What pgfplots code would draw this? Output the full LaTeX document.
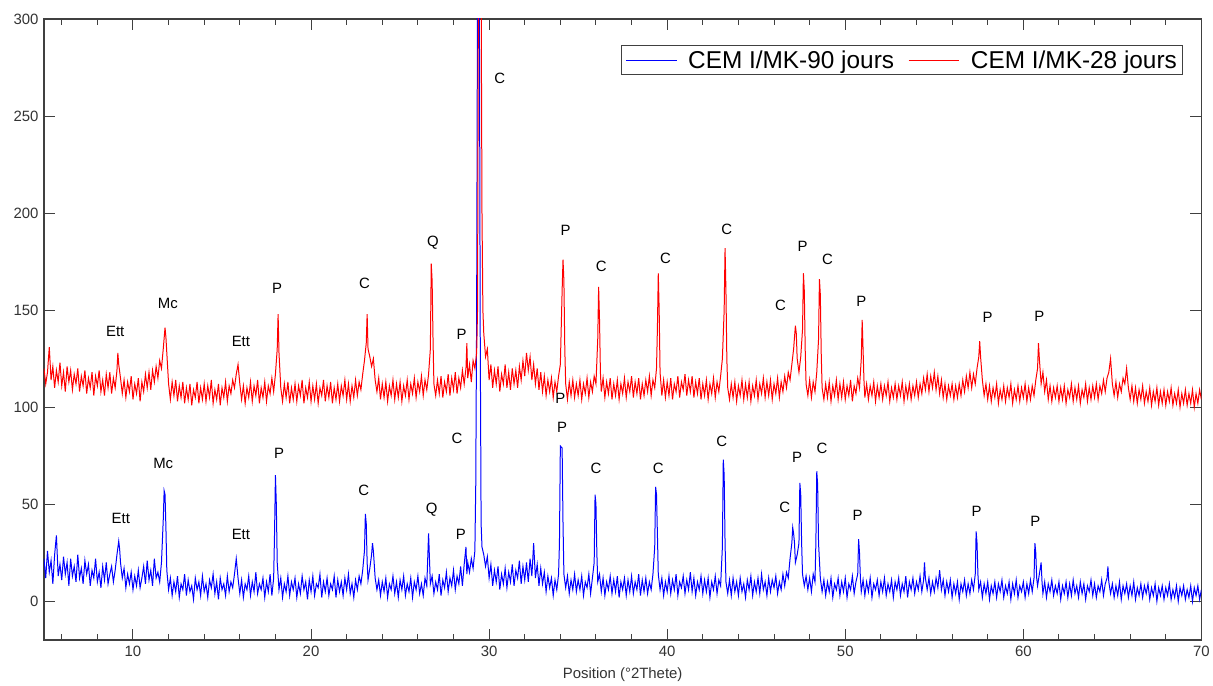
\documentclass[border=0pt]{standalone}
\usepackage{fontspec}
\setmainfont{Liberation Sans}
\usepackage{pgfplots}
\pgfplotsset{compat=1.18}
\begin{document}
\begin{tikzpicture}
\begin{axis}[
  width=1159bp, height=622bp, scale only axis,
  xmin=5, xmax=70, ymin=-20, ymax=300,
  xtick={10,20,...,70}, minor xtick={6,8,...,68},
  ytick={0,50,...,300},
  tick align=inside,
  major tick length=11bp, minor tick length=6bp,
  axis line style={draw=black!75, line width=1.5bp},
  every tick/.style={black!75, line width=1bp},
  /pgf/number format/assume math mode=true,
  ticklabel style={font=\fontsize{15}{18}\selectfont, text=black!80},
  yticklabel style={xshift=-2bp},
  xticklabel style={yshift=-2bp},
  xlabel={Position (°2Thete)},
  xlabel style={font=\fontsize{15}{18}\selectfont, text=black!80, yshift=-5bp},
  legend columns=2,
  legend cell align=left,
  legend image code/.code={\draw[#1] (0bp,0bp) -- (51bp,0bp); \path (60bp,0bp);},
  legend style={at={(rel axis cs:0.9845,0.958)}, anchor=north east,
    draw=black!75, line width=1.2bp, inner xsep=4bp, inner ysep=3bp,
    font=\fontsize{24.5}{29}\selectfont,
    /tikz/every even column/.append style={column sep=12bp}},
]
\addplot[blue, line width=1bp] coordinates {
(5.0,22)(5.1,12)(5.2,26)(5.3,15)(5.4,21)(5.5,9)(5.6,24)(5.7,34)(5.8,13)(5.9,19)
(6.0,11)(6.1,23)(6.2,14)(6.3,20)(6.4,8)(6.5,22)(6.6,13)(6.7,18)(6.8,10)(6.9,24)
(7.0,12)(7.1,17)(7.2,9)(7.3,21)(7.4,14)(7.5,19)(7.6,8)(7.7,16)(7.8,12)(7.9,22)
(8.0,10)(8.1,15)(8.2,7)(8.3,18)(8.4,11)(8.5,20)(8.6,9)(8.7,14)(8.8,18)(8.9,10)
(9.0,16)(9.1,24)(9.2,31)(9.25,27)(9.3,20)(9.4,12)(9.5,17)(9.6,7)(9.7,14)(9.8,9)(9.9,15)
(10.0,6)(10.1,13)(10.2,8)(10.3,16)(10.4,7)(10.5,12)(10.6,18)(10.7,9)(10.8,21)(10.9,11)
(11.0,16)(11.1,8)(11.2,22)(11.3,12)(11.4,15)(11.5,10)(11.6,20)(11.7,42)(11.75,57)(11.8,55)(11.85,38)(11.9,16)
(12.0,6)(12.1,12)(12.2,3)(12.3,10)(12.4,5)(12.5,13)(12.6,2)(12.7,9)(12.8,6)(12.9,14)
(13.0,3)(13.1,11)(13.2,5)(13.3,8)(13.4,1)(13.5,12)(13.6,6)(13.7,10)(13.8,3)(13.9,13)
(14.0,5)(14.1,9)(14.2,2)(14.3,11)(14.4,7)(14.5,14)(14.6,4)(14.7,10)(14.8,1)(14.9,12)
(15.0,6)(15.1,9)(15.2,3)(15.3,13)(15.4,5)(15.5,10)(15.6,7)(15.7,14)(15.8,22)(15.9,12)
(16.0,4)(16.1,11)(16.2,2)(16.3,9)(16.4,6)(16.5,13)(16.6,3)(16.7,10)(16.8,5)(16.9,15)
(17.0,4)(17.1,9)(17.2,6)(17.3,12)(17.4,2)(17.5,10)(17.6,5)(17.7,14)(17.8,3)(17.9,12)
(17.95,35)(18.0,65)(18.05,50)(18.1,20)(18.2,6)(18.3,12)(18.4,2)(18.5,9)(18.6,5)(18.7,13)(18.8,3)(18.9,10)
(19.0,6)(19.1,12)(19.2,2)(19.3,9)(19.4,4)(19.5,13)(19.6,6)(19.7,10)(19.8,1)(19.9,11)
(20.0,5)(20.1,13)(20.2,3)(20.3,9)(20.4,7)(20.5,14)(20.6,2)(20.7,10)(20.8,5)(20.9,12)
(21.0,3)(21.1,9)(21.2,6)(21.3,13)(21.4,2)(21.5,11)(21.6,5)(21.7,10)(21.8,3)(21.9,12)
(22.0,6)(22.1,14)(22.2,4)(22.3,9)(22.4,2)(22.5,11)(22.6,6)(22.7,13)(22.8,9)(22.9,16)
(23.0,26)(23.05,45)(23.1,40)(23.15,20)(23.2,11)(23.3,17)(23.4,24)(23.45,30)(23.5,26)(23.6,12)(23.7,6)(23.8,11)(23.9,3)
(24.0,10)(24.1,5)(24.2,12)(24.3,2)(24.4,9)(24.5,6)(24.6,13)(24.7,4)(24.8,10)(24.9,2)
(25.0,11)(25.1,6)(25.2,13)(25.3,3)(25.4,9)(25.5,5)(25.6,12)(25.7,2)(25.8,10)(25.9,6)
(26.0,13)(26.1,4)(26.2,9)(26.3,3)(26.4,12)(26.5,8)(26.6,35)(26.65,22)(26.7,9)(26.8,13)(26.9,4)
(27.0,10)(27.1,6)(27.2,14)(27.3,3)(27.4,11)(27.5,7)(27.6,15)(27.7,5)(27.8,12)(27.9,8)
(28.0,16)(28.1,6)(28.2,13)(28.3,9)(28.4,18)(28.5,8)(28.6,19)(28.7,28)(28.75,14)(28.8,20)(28.9,15)
(29.0,22)(29.1,17)(29.2,26)(29.25,60)(29.3,150)(29.35,320)(29.45,320)(29.5,140)(29.55,40)(29.6,28)(29.7,24)(29.8,18)(29.9,23)
(30.0,12)(30.1,19)(30.2,8)(30.3,16)(30.4,10)(30.5,18)(30.6,6)(30.7,14)(30.8,9)(30.9,17)
(31.0,7)(31.1,15)(31.2,10)(31.3,19)(31.4,8)(31.5,16)(31.6,12)(31.7,21)(31.8,9)(31.9,18)
(32.0,11)(32.1,20)(32.2,10)(32.3,22)(32.4,13)(32.5,30)(32.6,12)(32.7,19)(32.8,8)(32.9,17)
(33.0,9)(33.1,15)(33.2,5)(33.3,13)(33.4,7)(33.5,12)(33.6,3)(33.7,11)(33.8,6)(33.9,14)
(33.95,30)(34.0,80)(34.1,79)(34.15,40)(34.2,14)(34.3,7)(34.4,13)(34.5,4)(34.6,11)(34.7,6)(34.8,14)(34.9,5)
(35.0,11)(35.1,6)(35.2,13)(35.3,3)(35.4,10)(35.5,7)(35.6,14)(35.7,4)(35.8,12)(35.9,20)
(35.95,55)(36.0,50)(36.05,25)(36.1,10)(36.2,14)(36.3,5)(36.4,12)(36.5,3)(36.6,10)(36.7,6)(36.8,13)(36.9,4)
(37.0,11)(37.1,5)(37.2,13)(37.3,2)(37.4,10)(37.5,6)(37.6,12)(37.7,3)(37.8,11)(37.9,5)
(38.0,13)(38.1,4)(38.2,10)(38.3,6)(38.4,14)(38.5,3)(38.6,11)(38.7,5)(38.8,12)(38.9,4)
(39.0,10)(39.1,6)(39.2,14)(39.3,28)(39.35,59)(39.4,55)(39.45,35)(39.5,14)(39.6,6)(39.7,12)(39.8,3)(39.9,10)
(40.0,5)(40.1,13)(40.2,4)(40.3,11)(40.4,6)(40.5,14)(40.6,3)(40.7,10)(40.8,7)(40.9,13)
(41.0,4)(41.1,11)(41.2,6)(41.3,15)(41.4,5)(41.5,12)(41.6,3)(41.7,10)(41.8,6)(41.9,13)
(42.0,4)(42.1,11)(42.2,5)(42.3,12)(42.4,2)(42.5,10)(42.6,6)(42.7,13)(42.8,4)(42.9,11)
(43.0,8)(43.1,28)(43.15,73)(43.2,65)(43.25,30)(43.3,10)(43.4,4)(43.5,11)(43.6,3)(43.7,12)(43.8,5)(43.9,10)
(44.0,3)(44.1,12)(44.2,5)(44.3,9)(44.4,2)(44.5,11)(44.6,6)(44.7,13)(44.8,3)(44.9,10)
(45.0,5)(45.1,12)(45.2,4)(45.3,14)(45.4,6)(45.5,10)(45.6,3)(45.7,12)(45.8,5)(45.9,11)
(46.0,7)(46.1,13)(46.2,4)(46.3,10)(46.4,6)(46.5,14)(46.6,8)(46.7,15)(46.8,12)(46.9,22)
(47.0,30)(47.05,38)(47.1,35)(47.15,30)(47.2,20)(47.3,24)(47.4,30)(47.45,61)(47.5,55)(47.55,30)(47.6,14)(47.7,8)(47.8,13)(47.9,6)
(48.0,12)(48.1,5)(48.2,14)(48.3,10)(48.35,30)(48.4,67)(48.45,60)(48.5,30)(48.6,12)(48.7,5)(48.8,11)(48.9,3)
(49.0,10)(49.1,5)(49.2,12)(49.3,2)(49.4,9)(49.5,6)(49.6,12)(49.7,3)(49.8,10)(49.9,5)
(50.0,12)(50.1,2)(50.2,9)(50.3,6)(50.4,13)(50.5,4)(50.6,10)(50.7,14)(50.75,32)(50.8,25)(50.85,12)(50.9,5)
(51.0,11)(51.1,3)(51.2,10)(51.3,5)(51.4,12)(51.5,2)(51.6,9)(51.7,6)(51.8,11)(51.9,3)
(52.0,10)(52.1,5)(52.2,12)(52.3,3)(52.4,9)(52.5,5)(52.6,11)(52.7,2)(52.8,10)(52.9,6)
(53.0,12)(53.1,3)(53.2,9)(53.3,5)(53.4,13)(53.5,2)(53.6,10)(53.7,6)(53.8,12)(53.9,4)
(54.0,10)(54.1,6)(54.2,13)(54.3,5)(54.4,11)(54.45,20)(54.5,12)(54.6,6)(54.7,12)(54.8,4)(54.9,10)
(55.0,5)(55.1,12)(55.2,7)(55.3,16)(55.4,6)(55.5,11)(55.6,3)(55.7,10)(55.8,5)(55.9,11)
(56.0,2)(56.1,9)(56.2,4)(56.3,10)(56.4,1)(56.5,9)(56.6,5)(56.7,11)(56.8,3)(56.9,9)
(57.0,4)(57.1,11)(57.2,6)(57.3,14)(57.35,36)(57.4,30)(57.45,14)(57.5,6)(57.6,10)(57.7,2)(57.8,9)(57.9,4)
(58.0,10)(58.1,1)(58.2,8)(58.3,4)(58.4,10)(58.5,2)(58.6,9)(58.7,5)(58.8,11)(58.9,2)
(59.0,8)(59.1,4)(59.2,10)(59.3,1)(59.4,9)(59.5,4)(59.6,11)(59.7,2)(59.8,8)(59.9,5)
(60.0,10)(60.1,2)(60.2,9)(60.3,4)(60.4,11)(60.5,5)(60.6,12)(60.65,30)(60.7,25)(60.75,12)(60.8,8)(60.9,14)
(61.0,20)(61.05,10)(61.1,4)(61.2,10)(61.3,2)(61.4,9)(61.5,5)(61.6,11)(61.7,3)(61.8,8)(61.9,4)
(62.0,10)(62.1,1)(62.2,8)(62.3,4)(62.4,10)(62.5,2)(62.6,9)(62.7,3)(62.8,11)(62.9,4)
(63.0,8)(63.1,2)(63.2,10)(63.3,4)(63.4,9)(63.5,1)(63.6,8)(63.7,5)(63.8,11)(63.9,3)
(64.0,9)(64.1,2)(64.2,8)(64.3,5)(64.4,11)(64.5,3)(64.6,9)(64.7,12)(64.75,18)(64.8,10)(64.9,4)
(65.0,9)(65.1,2)(65.2,8)(65.3,3)(65.4,10)(65.5,1)(65.6,8)(65.7,4)(65.8,9)(65.9,2)
(66.0,8)(66.1,3)(66.2,10)(66.3,1)(66.4,7)(66.5,3)(66.6,9)(66.7,2)(66.8,8)(66.9,4)
(67.0,9)(67.1,1)(67.2,7)(67.3,3)(67.4,9)(67.5,0)(67.6,7)(67.7,3)(67.8,8)(67.9,1)
(68.0,7)(68.1,3)(68.2,9)(68.3,1)(68.4,6)(68.5,2)(68.6,8)(68.7,0)(68.8,7)(68.9,3)
(69.0,8)(69.1,1)(69.2,6)(69.3,2)(69.4,8)(69.5,0)(69.6,7)(69.7,3)(69.8,8)(69.9,1)(70.0,6)
};
\addlegendentry{CEM I/MK-90 jours}
\addplot[red, line width=1bp] coordinates {
(5.0,120)(5.1,112)(5.2,118)(5.3,131)(5.4,114)(5.5,121)(5.6,110)(5.7,119)(5.8,113)(5.9,123)
(6.0,111)(6.1,118)(6.2,108)(6.3,121)(6.4,113)(6.5,119)(6.6,109)(6.7,117)(6.8,112)(6.9,120)
(7.0,108)(7.1,116)(7.2,111)(7.3,119)(7.4,107)(7.5,115)(7.6,110)(7.7,118)(7.8,106)(7.9,116)
(8.0,111)(8.1,119)(8.2,108)(8.3,114)(8.4,106)(8.5,117)(8.6,110)(8.7,118)(8.8,107)(8.9,115)
(9.0,110)(9.1,119)(9.15,128)(9.2,122)(9.3,115)(9.4,107)(9.5,114)(9.6,105)(9.7,113)(9.8,108)(9.9,116)
(10.0,104)(10.1,112)(10.2,107)(10.3,115)(10.4,103)(10.5,113)(10.6,108)(10.7,117)(10.8,110)(10.9,118)
(11.0,109)(11.1,119)(11.2,113)(11.3,121)(11.4,115)(11.5,124)(11.6,120)(11.7,130)(11.8,141)(11.85,136)(11.9,128)
(12.0,112)(12.1,104)(12.2,113)(12.3,106)(12.4,114)(12.5,103)(12.6,111)(12.7,105)(12.8,113)(12.9,102)
(13.0,110)(13.1,104)(13.2,112)(13.3,101)(13.4,109)(13.5,105)(13.6,113)(13.7,102)(13.8,110)(13.9,104)
(14.0,112)(14.1,103)(14.2,111)(14.3,105)(14.4,114)(14.5,102)(14.6,109)(14.7,104)(14.8,112)(14.9,101)
(15.0,110)(15.1,105)(15.2,113)(15.3,103)(15.4,111)(15.5,107)(15.6,114)(15.7,110)(15.8,117)(15.9,122)
(16.0,112)(16.1,104)(16.2,111)(16.3,102)(16.4,110)(16.5,105)(16.6,113)(16.7,103)(16.8,111)(16.9,106)
(17.0,114)(17.1,102)(17.2,110)(17.3,105)(17.4,113)(17.5,103)(17.6,111)(17.7,107)(17.8,115)(17.9,108)
(18.0,117)(18.1,130)(18.15,148)(18.2,128)(18.3,110)(18.4,103)(18.5,112)(18.6,105)(18.7,113)(18.8,102)(18.9,110)
(19.0,104)(19.1,112)(19.2,103)(19.3,111)(19.4,106)(19.5,114)(19.6,102)(19.7,110)(19.8,105)(19.9,113)
(20.0,103)(20.1,111)(20.2,104)(20.3,112)(20.4,102)(20.5,110)(20.6,106)(20.7,114)(20.8,103)(20.9,111)
(21.0,105)(21.1,113)(21.2,102)(21.3,110)(21.4,104)(21.5,112)(21.6,103)(21.7,111)(21.8,106)(21.9,114)
(22.0,104)(22.1,112)(22.2,103)(22.3,111)(22.4,105)(22.5,114)(22.6,106)(22.7,113)(22.8,109)(22.9,117)
(23.0,124)(23.1,133)(23.15,148)(23.2,130)(23.3,126)(23.4,121)(23.5,125)(23.6,114)(23.7,108)(23.8,115)(23.9,104)
(24.0,112)(24.1,105)(24.2,113)(24.3,103)(24.4,111)(24.5,106)(24.6,114)(24.7,104)(24.8,112)(24.9,105)
(25.0,113)(25.1,103)(25.2,111)(25.3,106)(25.4,114)(25.5,104)(25.6,112)(25.7,107)(25.8,115)(25.9,105)
(26.0,113)(26.1,108)(26.2,116)(26.3,106)(26.4,114)(26.5,109)(26.6,117)(26.7,130)(26.75,174)(26.8,165)(26.85,135)(26.9,112)
(27.0,106)(27.1,114)(27.2,107)(27.3,116)(27.4,105)(27.5,113)(27.6,108)(27.7,117)(27.8,106)(27.9,115)
(28.0,109)(28.1,118)(28.2,107)(28.3,115)(28.4,110)(28.5,119)(28.6,112)(28.7,120)(28.75,133)(28.8,115)(28.9,122)
(29.0,113)(29.1,124)(29.2,120)(29.3,128)(29.35,150)(29.4,320)(29.55,320)(29.6,200)(29.65,150)(29.7,138)(29.8,126)(29.9,130)
(30.0,114)(30.1,122)(30.2,110)(30.3,119)(30.4,112)(30.5,121)(30.6,108)(30.7,117)(30.8,112)(30.9,122)
(31.0,110)(31.1,118)(31.2,109)(31.3,120)(31.4,112)(31.5,119)(31.6,110)(31.7,121)(31.8,114)(31.9,124)
(32.0,116)(32.1,128)(32.2,119)(32.3,126)(32.4,114)(32.5,122)(32.6,112)(32.7,120)(32.8,109)(32.9,118)
(33.0,108)(33.1,116)(33.2,106)(33.3,114)(33.4,108)(33.5,115)(33.6,105)(33.7,113)(33.8,108)(33.9,116)
(34.0,122)(34.1,160)(34.15,176)(34.2,165)(34.25,130)(34.3,112)(34.4,104)(34.5,113)(34.6,106)(34.7,114)(34.8,105)(34.9,112)
(35.0,106)(35.1,114)(35.2,104)(35.3,112)(35.4,107)(35.5,115)(35.6,105)(35.7,113)(35.8,108)(35.9,116)
(36.0,112)(36.1,135)(36.15,162)(36.2,145)(36.25,118)(36.3,108)(36.4,115)(36.5,105)(36.6,113)(36.7,107)(36.8,115)(36.9,104)
(37.0,112)(37.1,106)(37.2,114)(37.3,104)(37.4,112)(37.5,107)(37.6,115)(37.7,105)(37.8,113)(37.9,108)
(38.0,116)(38.1,105)(38.2,113)(38.3,107)(38.4,115)(38.5,104)(38.6,112)(38.7,106)(38.8,114)(38.9,108)
(39.0,116)(39.1,106)(39.2,114)(39.3,110)(39.4,120)(39.45,140)(39.5,169)(39.55,150)(39.6,118)(39.7,106)(39.8,114)(39.9,105)
(40.0,113)(40.1,106)(40.2,115)(40.3,104)(40.4,112)(40.5,108)(40.6,116)(40.7,105)(40.8,113)(40.9,109)
(41.0,117)(41.1,106)(41.2,114)(41.3,108)(41.4,116)(41.5,105)(41.6,113)(41.7,107)(41.8,115)(41.9,104)
(42.0,112)(42.1,106)(42.2,114)(42.3,104)(42.4,112)(42.5,107)(42.6,115)(42.7,105)(42.8,113)(42.9,108)
(43.0,116)(43.1,125)(43.2,150)(43.25,182)(43.3,160)(43.35,125)(43.4,110)(43.5,104)(43.6,112)(43.7,105)(43.8,113)(43.9,103)
(44.0,111)(44.1,106)(44.2,114)(44.3,104)(44.4,112)(44.5,105)(44.6,113)(44.7,103)(44.8,111)(44.9,106)
(45.0,114)(45.1,104)(45.2,112)(45.3,107)(45.4,115)(45.5,105)(45.6,113)(45.7,106)(45.8,114)(45.9,104)
(46.0,112)(46.1,107)(46.2,115)(46.3,105)(46.4,113)(46.5,108)(46.6,116)(46.7,110)(46.8,118)(46.9,114)
(47.0,122)(47.1,130)(47.2,142)(47.25,138)(47.3,125)(47.4,118)(47.5,126)(47.6,140)(47.65,169)(47.7,160)(47.75,130)(47.8,112)(47.9,106)
(48.0,114)(48.1,105)(48.2,113)(48.3,108)(48.4,118)(48.5,135)(48.55,166)(48.6,158)(48.65,128)(48.7,110)(48.8,104)(48.9,112)
(49.0,105)(49.1,113)(49.2,103)(49.3,111)(49.4,106)(49.5,114)(49.6,104)(49.7,112)(49.8,105)(49.9,113)
(50.0,104)(50.1,111)(50.2,106)(50.3,114)(50.4,103)(50.5,111)(50.6,107)(50.7,115)(50.8,110)(50.9,125)
(50.95,145)(51.0,130)(51.05,114)(51.1,105)(51.2,112)(51.3,104)(51.4,111)(51.5,106)(51.6,113)(51.7,103)(51.8,111)(51.9,105)
(52.0,112)(52.1,104)(52.2,111)(52.3,106)(52.4,113)(52.5,103)(52.6,110)(52.7,105)(52.8,112)(52.9,104)
(53.0,111)(53.1,106)(53.2,113)(53.3,103)(53.4,111)(53.5,105)(53.6,112)(53.7,104)(53.8,111)(53.9,106)
(54.0,113)(54.1,105)(54.2,112)(54.3,107)(54.4,115)(54.5,109)(54.6,117)(54.7,108)(54.8,116)(54.9,110)
(55.0,118)(55.1,109)(55.2,116)(55.3,107)(55.4,114)(55.5,105)(55.6,112)(55.7,104)(55.8,111)(55.9,106)
(56.0,112)(56.1,104)(56.2,111)(56.3,105)(56.4,112)(56.5,106)(56.6,114)(56.7,108)(56.8,116)(56.9,110)
(57.0,118)(57.1,110)(57.2,117)(57.3,112)(57.4,120)(57.5,126)(57.55,134)(57.6,126)(57.7,114)(57.8,106)(57.9,112)
(58.0,104)(58.1,111)(58.2,103)(58.3,110)(58.4,105)(58.5,112)(58.6,102)(58.7,109)(58.8,104)(58.9,111)
(59.0,103)(59.1,110)(59.2,105)(59.3,112)(59.4,102)(59.5,109)(59.6,104)(59.7,111)(59.8,103)(59.9,110)
(60.0,105)(60.1,112)(60.2,103)(60.3,110)(60.4,104)(60.5,111)(60.6,106)(60.7,114)(60.8,120)(60.85,133)(60.9,125)(61.0,112)
(61.1,118)(61.2,108)(61.3,114)(61.4,104)(61.5,111)(61.6,103)(61.7,110)(61.8,105)(61.9,111)
(62.0,103)(62.1,110)(62.2,104)(62.3,111)(62.4,102)(62.5,109)(62.6,105)(62.7,112)(62.8,103)(62.9,110)
(63.0,104)(63.1,111)(63.2,102)(63.3,109)(63.4,105)(63.5,112)(63.6,103)(63.7,110)(63.8,104)(63.9,111)
(64.0,105)(64.1,112)(64.2,104)(64.3,111)(64.4,107)(64.5,114)(64.6,108)(64.7,115)(64.8,118)(64.9,125)
(65.0,112)(65.1,106)(65.2,113)(65.3,105)(65.4,112)(65.5,108)(65.6,115)(65.7,112)(65.8,120)(65.9,110)
(66.0,104)(66.1,111)(66.2,103)(66.3,110)(66.4,102)(66.5,109)(66.6,104)(66.7,111)(66.8,102)(66.9,108)
(67.0,103)(67.1,110)(67.2,101)(67.3,108)(67.4,103)(67.5,110)(67.6,101)(67.7,108)(67.8,102)(67.9,109)
(68.0,101)(68.1,108)(68.2,103)(68.3,110)(68.4,101)(68.5,107)(68.6,102)(68.7,109)(68.8,100)(68.9,107)
(69.0,102)(69.1,109)(69.2,101)(69.3,107)(69.4,102)(69.5,109)(69.6,100)(69.7,107)(69.8,102)(69.9,109)(70.0,104)
};
\addlegendentry{CEM I/MK-28 jours}
\begin{scope}[every node/.style={font=\fontsize{15}{18}\selectfont, text=black}]
% red labels
\node at (axis cs:9.0,139) {Ett};
\node at (axis cs:11.96,153.6) {Mc};
\node at (axis cs:16.06,134) {Ett};
\node at (axis cs:18.1,161) {P};
\node at (axis cs:23.0,164) {C};
\node at (axis cs:26.84,184.5) {Q};
\node at (axis cs:28.46,137.6) {P};
\node at (axis cs:30.6,269.6) {C};
\node at (axis cs:34.3,191) {P};
\node at (axis cs:36.3,172.7) {C};
\node at (axis cs:39.9,176.8) {C};
\node at (axis cs:43.34,191.8) {C};
\node at (axis cs:46.37,152.6) {C};
\node at (axis cs:47.6,183) {P};
\node at (axis cs:49.0,176.3) {C};
\node at (axis cs:50.9,154.6) {P};
\node at (axis cs:58.0,146.4) {P};
\node at (axis cs:60.9,147) {P};
\node at (axis cs:34.0,104.6) {P};
% blue labels
\node at (axis cs:9.32,42.8) {Ett};
\node at (axis cs:11.7,71) {Mc};
\node at (axis cs:16.06,34.5) {Ett};
\node at (axis cs:18.2,76) {P};
\node at (axis cs:22.96,57) {C};
\node at (axis cs:26.78,47) {Q};
\node at (axis cs:28.41,34.5) {P};
\node at (axis cs:28.2,84) {C};
\node at (axis cs:34.1,89.7) {P};
\node at (axis cs:36.0,68.6) {C};
\node at (axis cs:39.5,68.6) {C};
\node at (axis cs:43.07,82.5) {C};
\node at (axis cs:46.6,48.5) {C};
\node at (axis cs:47.3,74) {P};
\node at (axis cs:48.7,79) {C};
\node at (axis cs:50.7,44.3) {P};
\node at (axis cs:57.37,46.4) {P};
\node at (axis cs:60.68,41) {P};
\end{scope}
\end{axis}
\path (current axis.north west) ++(-44bp,19bp);
\path (current axis.south east) ++(10bp,-44bp);
\end{tikzpicture}
\end{document}
